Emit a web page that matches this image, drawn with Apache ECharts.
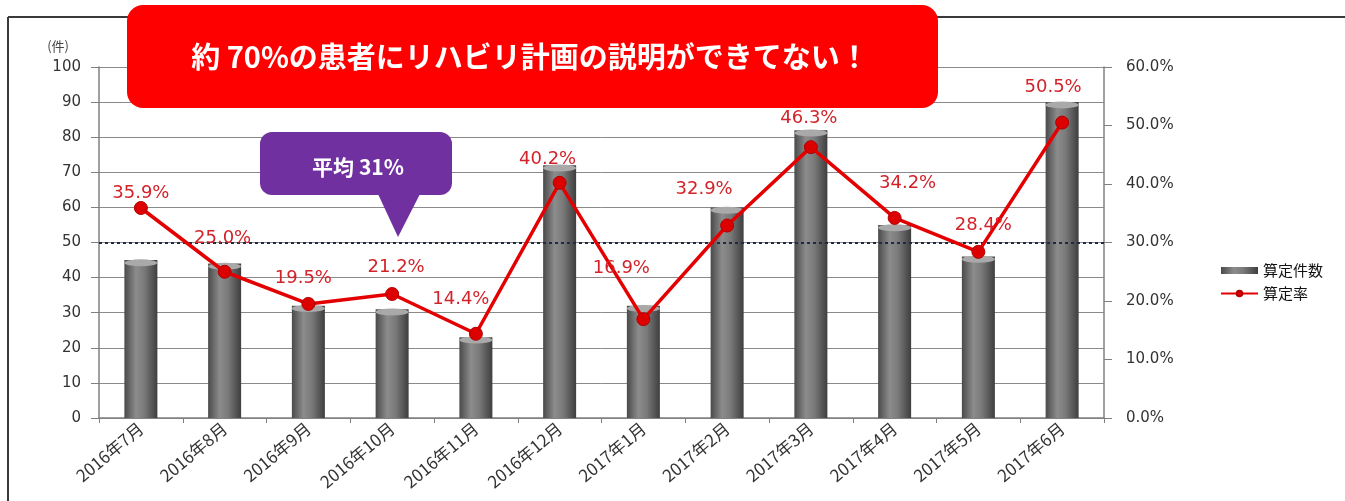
<!DOCTYPE html>
<html>
<head>
<meta charset="utf-8">
<script src="https://cdn.jsdelivr.net/npm/echarts@6/dist/echarts.min.js"></script>
<style>
html,body{margin:0;padding:0;background:#fff;}
#chart{width:1345px;height:501px;}
</style>
</head>
<body>
<div id="chart"></div>
<script>
// ---- data ----
const categories = ['2016年7月','2016年8月','2016年9月','2016年10月','2016年11月','2016年12月','2017年1月','2017年2月','2017年3月','2017年4月','2017年5月','2017年6月'];
const countValues = [45, 44, 32, 31, 23, 72, 32, 60, 82, 55, 46, 90];
const rateValues = [35.9, 25.0, 19.5, 21.2, 14.4, 40.2, 16.9, 32.9, 46.3, 34.2, 28.4, 50.5];
const averageRate = 30;
const seriesNames = ['算定件数', '算定率'];
const leftAxisName = '(件)';
const bannerText = '約 70%の患者にリハビリ計画の説明ができてない！';
const calloutText = '平均 31%';

// ---- styling (label nudges only) ----
const labelOffsets = [[0,6],[-2,-12],[-5,-5],[4,-6],[-15,-13],[-12,-3],[-22,-30],[-23,-15],[-2,-8],[13,-14],[5,-6],[-9,-14]];

const chart = echarts.init(document.getElementById('chart'));
const axisFont = 'DejaVu Sans';

const barGradient = new echarts.graphic.LinearGradient(0,0,1,0,[
  {offset:0, color:'#4a4a4a'},
  {offset:0.35, color:'#8c8c8c'},
  {offset:0.6, color:'#7a7a7a'},
  {offset:1, color:'#3e3e3e'}
]);

chart.setOption({
  animation: false,
  backgroundColor: '#ffffff',
  grid: {left: 99, right: 241, top: 67, bottom: 83},
  legend: {
    orient: 'vertical',
    left: 1215, top: 258,
    itemWidth: 37, itemHeight: 7, itemGap: 8,
    textStyle: {fontFamily: 'Noto Sans CJK JP', fontSize: 15, color: '#111'},
    data: [
      {name: seriesNames[0], icon: 'rect'},
      {name: seriesNames[1]}
    ]
  },
  xAxis: {
    type: 'category',
    data: categories,
    axisLine: {lineStyle: {color: '#808080', width: 1.5}},
    axisTick: {show: true, length: 5, lineStyle: {color: '#808080'}},
    axisLabel: {rotate: 40, fontFamily: 'Noto Sans CJK JP', fontSize: 17, color: '#333', margin: 8}
  },
  yAxis: [
    {
      type: 'value', min: 0, max: 100, interval: 10,
      name: leftAxisName, nameLocation: 'end', nameGap: 14,
      nameTextStyle: {fontFamily: 'Noto Sans CJK JP', fontSize: 13, color: '#444', align: 'right', padding: [0, 30, 0, 0]},
      axisLine: {show: true, lineStyle: {color: '#808080', width: 1.5}},
      axisTick: {show: true, length: 8, lineStyle: {color: '#808080'}},
      axisLabel: {fontFamily: axisFont, fontSize: 15, color: '#333', margin: 18},
      splitLine: {show: true, lineStyle: {color: '#8a8a8a', width: 1}}
    },
    {
      type: 'value', min: 0, max: 60, interval: 10,
      position: 'right',
      axisLine: {show: true, lineStyle: {color: '#808080', width: 1.5}},
      axisTick: {show: true, length: 8, lineStyle: {color: '#808080'}},
      axisLabel: {fontFamily: axisFont, fontSize: 15, color: '#333', margin: 22,
        formatter: v => v.toFixed(1) + '%'},
      splitLine: {show: false}
    }
  ],
  series: [
    {
      name: seriesNames[0],
      type: 'bar',
      data: countValues,
      barWidth: 33,
      itemStyle: {color: barGradient},
      z: 2
    },
    {
      name: seriesNames[0] + '_cap',
      type: 'pictorialBar',
      data: countValues,
      symbol: 'circle',
      symbolSize: [33, 7],
      symbolPosition: 'end',
      symbolOffset: [0, '-10%'],
      itemStyle: {color: '#a9a9a9'},
      z: 3,
      silent: true
    },
    {
      name: seriesNames[1],
      type: 'line',
      yAxisIndex: 1,
      data: rateValues.map((v, i) => ({value: v, label: {offset: labelOffsets[i]}})),
      symbol: 'circle',
      symbolSize: 13,
      lineStyle: {color: '#e40000', width: 3.5},
      itemStyle: {color: '#dd0000', borderColor: '#b00000', borderWidth: 1},
      label: {
        show: true, position: 'top', distance: 5,
        formatter: p => p.value.toFixed(1) + '%',
        fontFamily: axisFont, fontSize: 18, color: '#d2232a'
      },
      markLine: {
        silent: true,
        symbol: 'none',
        label: {show: false},
        lineStyle: {color: '#1f2a44', type: [3, 3], width: 2},
        data: [{yAxis: averageRate}]
      },
      z: 5
    }
  ],
  graphic: [
    {type: 'line', shape: {x1: 8, y1: 17, x2: 1345, y2: 17}, style: {stroke: '#3a3a3a', lineWidth: 2}, z: 0},
    {type: 'line', shape: {x1: 8, y1: 17, x2: 8, y2: 501}, style: {stroke: '#3a3a3a', lineWidth: 2}, z: 0},
    {
      type: 'rect', shape: {x: 127, y: 5, width: 811, height: 103, r: 16},
      style: {fill: '#ff0000'}, z: 100
    },
    {
      type: 'text', x: 530, y: 57,
      style: {text: bannerText, fill: '#ffffff', font: 'bold 29px "Noto Sans CJK JP"', align: 'center', verticalAlign: 'middle'},
      z: 101
    },
    {
      type: 'rect', shape: {x: 260, y: 132, width: 192, height: 63, r: 12},
      style: {fill: '#7030a0'}, z: 100
    },
    {
      type: 'polygon', shape: {points: [[378, 194], [420, 194], [398, 237]]},
      style: {fill: '#7030a0'}, z: 100
    },
    {
      type: 'text', x: 358, y: 167,
      style: {text: calloutText, fill: '#ffffff', font: 'bold 21px "Noto Sans CJK JP"', align: 'center', verticalAlign: 'middle'},
      z: 101
    }
  ]
});
</script>
</body>
</html>
